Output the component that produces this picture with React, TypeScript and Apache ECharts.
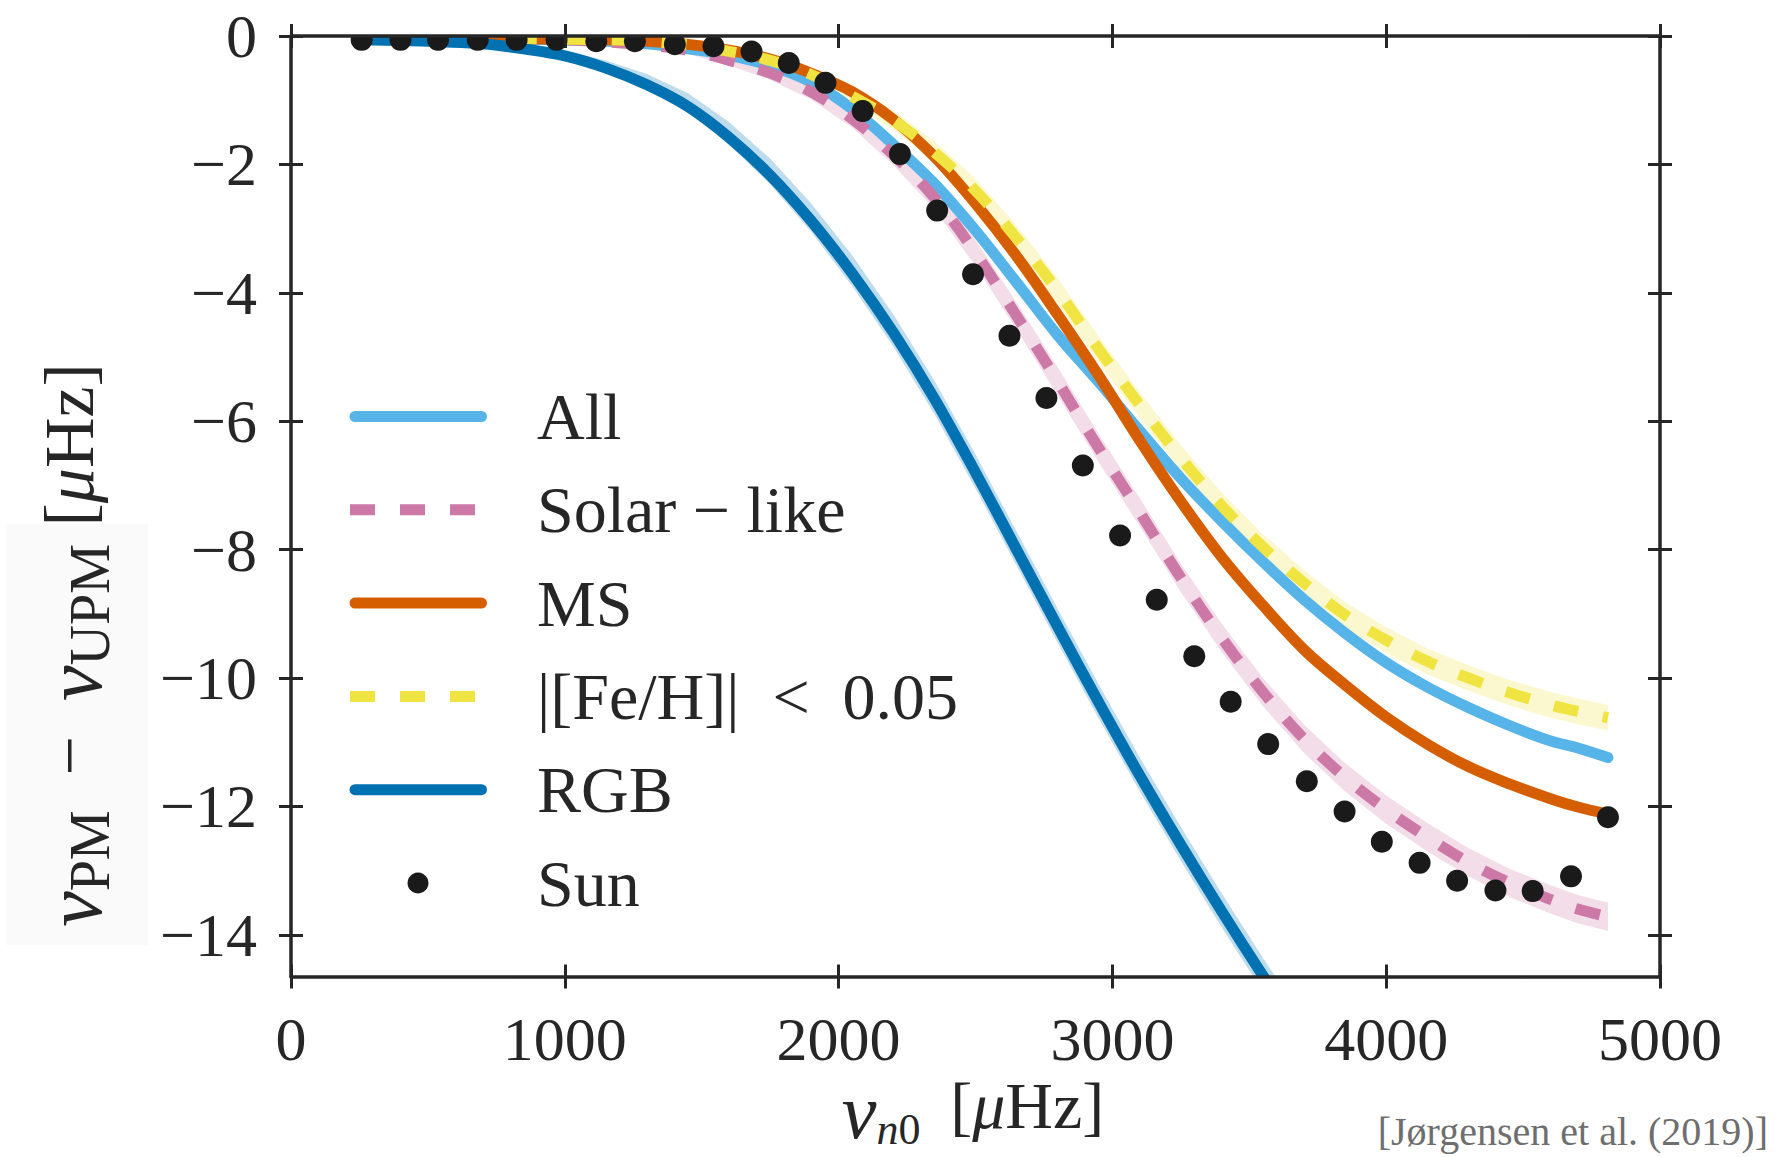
import React, { useEffect, useRef } from 'react';
import * as echarts from 'echarts';

// ---------------- data ----------------
const nuGrid = [258, 400, 550, 700, 850, 1000, 1150, 1300, 1450, 1600, 1750, 1900, 2050, 2200, 2350, 2500, 2650, 2800, 2950, 3100, 3250, 3400, 3550, 3700, 3850, 4000, 4150, 4300, 4450, 4600, 4700, 4810];

const allValues = [-0.03, -0.03, -0.03, -0.04, -0.05, -0.06, -0.08, -0.12, -0.2, -0.3, -0.46, -0.72, -1.14, -1.69, -2.3, -3.03, -3.84, -4.66, -5.39, -6.15, -6.89, -7.56, -8.19, -8.78, -9.3, -9.76, -10.14, -10.46, -10.74, -10.98, -11.09, -11.24];

const solarLikeValues = [-0.03, -0.03, -0.03, -0.04, -0.05, -0.06, -0.09, -0.14, -0.22, -0.38, -0.58, -0.87, -1.29, -1.85, -2.52, -3.38, -4.36, -5.38, -6.42, -7.42, -8.44, -9.38, -10.22, -10.95, -11.55, -12.05, -12.48, -12.87, -13.19, -13.45, -13.6, -13.72];

const msValues = [-0.03, -0.03, -0.03, -0.03, -0.04, -0.05, -0.06, -0.08, -0.13, -0.22, -0.36, -0.58, -0.87, -1.3, -1.88, -2.61, -3.43, -4.34, -5.29, -6.3, -7.25, -8.12, -8.87, -9.56, -10.11, -10.61, -11.03, -11.38, -11.65, -11.88, -12.01, -12.12];

const fehValues = [-0.03, -0.03, -0.03, -0.03, -0.04, -0.05, -0.06, -0.08, -0.14, -0.24, -0.38, -0.6, -0.94, -1.31, -1.81, -2.41, -3.15, -3.97, -4.88, -5.75, -6.57, -7.32, -7.96, -8.52, -9.02, -9.41, -9.74, -10.0, -10.23, -10.42, -10.52, -10.62];

const rgbValues = [-0.06, -0.07, -0.09, -0.12, -0.2, -0.31, -0.5, -0.76, -1.1, -1.58, -2.17, -2.88, -3.7, -4.62, -5.65, -6.8, -8.0, -9.2, -10.38, -11.52, -12.6, -13.64, -14.64, -15.6, null, null, null, null, null, null, null, null];

// uncertainty bands (half-widths)
const solarLikeSpread = [0.01, 0.01, 0.01, 0.02, 0.02, 0.03, 0.04, 0.05, 0.06, 0.08, 0.1, 0.12, 0.14, 0.16, 0.18, 0.2, 0.21, 0.22, 0.22, 0.22, 0.22, 0.22, 0.22, 0.22, 0.22, 0.22, 0.22, 0.22, 0.22, 0.22, 0.22, 0.22];
const fehSpread = [0.01, 0.01, 0.01, 0.01, 0.02, 0.02, 0.03, 0.04, 0.05, 0.07, 0.09, 0.11, 0.13, 0.15, 0.17, 0.19, 0.2, 0.2, 0.2, 0.2, 0.2, 0.2, 0.2, 0.2, 0.2, 0.2, 0.2, 0.2, 0.2, 0.2, 0.2, 0.2];
const rgbSpreadUp = [0.02, 0.02, 0.03, 0.04, 0.06, 0.08, 0.12, 0.17, 0.21, 0.24, 0.26, 0.27, 0.28, 0.28, 0.28, 0.28, 0.28, 0.28, 0.28, 0.28, 0.28, 0.28, 0.28, 0.28, null, null, null, null, null, null, null, null];
const rgbSpreadDown = [0.01, 0.01, 0.02, 0.02, 0.03, 0.04, 0.05, 0.07, 0.09, 0.11, 0.14, 0.17, 0.2, 0.22, 0.24, 0.25, 0.25, 0.25, 0.25, 0.25, 0.25, 0.25, 0.25, 0.25, null, null, null, null, null, null, null, null];

const sunNu = [258, 400, 537, 682, 824, 970, 1115, 1256, 1402, 1543, 1682, 1818, 1952, 2088, 2224, 2360, 2491, 2624, 2759, 2892, 3028, 3162, 3299, 3432, 3569, 3710, 3848, 3984, 4122, 4259, 4399, 4535, 4675, 4810];
const sunValues = [-0.06, -0.06, -0.06, -0.06, -0.06, -0.06, -0.08, -0.08, -0.13, -0.16, -0.24, -0.42, -0.73, -1.17, -1.84, -2.72, -3.71, -4.67, -5.64, -6.69, -7.78, -8.78, -9.66, -10.37, -11.03, -11.61, -12.08, -12.55, -12.88, -13.16, -13.31, -13.32, -13.09, -12.17];

const xTickValues = [0, 1000, 2000, 3000, 4000, 5000];
const yTickValues = [-14, -12, -10, -8, -6, -4, -2, 0];
const legendLabels = ['All', 'Solar \u2212 like', 'MS', '|[Fe/H]|\u2002<\u20020.05', 'RGB', 'Sun'];
const citationText = '[J\u00f8rgensen et al. (2019)]';

// ---------------- styling ----------------
const W = 1785;
const H = 1157;
const GRID = { left: 291, top: 36, right: 125, bottom: 180.5 };
const X_MIN = 0;
const X_MAX = 5000;
const Y_MIN = -14.65;
const Y_MAX = 0;
const FONT = "'Liberation Serif', 'DejaVu Serif', serif";
const AXIS_COLOR = '#262626';
const COLORS = {
  all: '#56B4E9',
  solar: '#CC79A7',
  ms: '#D55E00',
  feh: '#F0E442',
  rgb: '#0072B2',
  sun: '#1a1a1a',
};
const LINE_W = 11;

function seriesPoints(values: (number | null)[]) {
  const out: number[][] = [];
  nuGrid.forEach((x, i) => {
    const v = values[i];
    if (v != null) out.push([x, v]);
  });
  return out;
}

function bandRows(values: (number | null)[], up: (number | null)[], down: (number | null)[]) {
  const rows: number[][] = [];
  nuGrid.forEach((x, i) => {
    const v = values[i];
    const u = up[i];
    const d = down[i];
    if (v != null && u != null && d != null) rows.push([x, v - d, v + u]);
  });
  return rows;
}

function bandSeries(id: string, rows: number[][], fill: string) {
  return {
    type: 'custom',
    id,
    silent: true,
    clip: true,
    z: 1,
    data: rows,
    encode: { x: 0, y: [1, 2] },
    renderItem: (params: any, api: any) => {
      if (params.dataIndex !== 0) return null;
      const upper = rows.map((r) => api.coord([r[0], r[2]]));
      const lower = rows.map((r) => api.coord([r[0], r[1]])).reverse();
      return {
        type: 'polygon',
        shape: { points: upper.concat(lower) },
        style: { fill },
      };
    },
  };
}

function lineSeries(name: string, values: (number | null)[], color: string, dashed: boolean) {
  return {
    type: 'line',
    name,
    data: seriesPoints(values),
    symbol: 'none',
    showSymbol: false,
    smooth: 0.35,
    clip: true,
    silent: true,
    z: 2,
    lineStyle: {
      color,
      width: LINE_W,
      type: dashed ? [25, 25] : 'solid',
      cap: dashed ? 'butt' : 'round',
      join: 'round',
    },
    emphasis: { disabled: true },
  };
}

const tickLine = { color: AXIS_COLOR, width: 3 };

function xAxisDef(position: string, inside: boolean, showLine: boolean, showLabel: boolean) {
  return {
    type: 'value',
    position,
    min: X_MIN,
    max: X_MAX,
    interval: 1000,
    z: 10,
    axisLine: { show: showLine, onZero: false, lineStyle: { color: AXIS_COLOR, width: 3.5 } },
    axisTick: { show: true, inside, length: 12, lineStyle: tickLine, customValues: xTickValues },
    axisLabel: {
      show: showLabel,
      margin: 31,
      fontSize: 62,
      fontFamily: FONT,
      color: AXIS_COLOR,
      customValues: xTickValues,
      formatter: (v: number) => String(v),
    },
    splitLine: { show: false },
  };
}

function yAxisDef(position: string, inside: boolean, showLine: boolean, showLabel: boolean) {
  return {
    type: 'value',
    position,
    min: Y_MIN,
    max: Y_MAX,
    z: 10,
    axisLine: { show: showLine, onZero: false, lineStyle: { color: AXIS_COLOR, width: 3.5 } },
    axisTick: { show: true, inside, length: 12, lineStyle: tickLine, customValues: yTickValues },
    axisLabel: {
      show: showLabel,
      margin: 34,
      fontSize: 62,
      fontFamily: FONT,
      color: AXIS_COLOR,
      customValues: yTickValues,
      formatter: (v: number) => (v < 0 ? '\u2212' + Math.abs(v) : String(v)),
    },
    splitLine: { show: false },
  };
}

function mathRich(main: number, nu: number, sub: number) {
  const lh = Math.round(main * 1.2);
  return {
    n: { fontSize: nu, fontFamily: FONT, fontStyle: 'italic', fill: AXIS_COLOR, lineHeight: lh, verticalAlign: 'top' },
    i: { fontSize: main, fontFamily: FONT, fontStyle: 'italic', fill: AXIS_COLOR, lineHeight: lh, verticalAlign: 'top' },
    r: { fontSize: main, fontFamily: FONT, fill: AXIS_COLOR, lineHeight: lh, verticalAlign: 'top' },
    s: { fontSize: sub, fontFamily: FONT, fill: AXIS_COLOR, lineHeight: sub, verticalAlign: 'bottom' },
    si: { fontSize: sub, fontFamily: FONT, fontStyle: 'italic', fill: AXIS_COLOR, lineHeight: sub, verticalAlign: 'bottom' },
  };
}

function buildGraphic() {
  const els: any[] = [];
  // white covers so that marks are clipped at the frame like in the reference
  els.push({ type: 'rect', silent: true, z: 5, shape: { x: 0, y: 0, width: W, height: GRID.top }, style: { fill: '#ffffff' } });
  els.push({ type: 'rect', silent: true, z: 5, shape: { x: 0, y: H - GRID.bottom, width: W, height: GRID.bottom }, style: { fill: '#ffffff' } });
  // faint box behind the y label
  els.push({ type: 'rect', silent: true, z: 6, shape: { x: 6, y: 524, width: 142, height: 421 }, style: { fill: '#fafafa' } });

  // y axis label
  els.push({
    type: 'text',
    silent: true,
    z: 20,
    x: 76,
    y: 645,
    rotation: Math.PI / 2,
    style: {
      text: '{n|\u03bd}{s|PM}{r|\u2002\u2212\u2002}{n|\u03bd}{s|UPM}{r| [}{i|\u03bc}{r|Hz]}',
      rich: mathRich(70, 80, 56),
      fontSize: 70,
      fontFamily: FONT,
      fill: AXIS_COLOR,
      align: 'center',
      verticalAlign: 'middle',
      textAlign: 'center',
      textVerticalAlign: 'middle',
    },
  });
  // x axis label
  els.push({
    type: 'text',
    silent: true,
    z: 20,
    x: 973,
    y: 1112,
    style: {
      text: '{n|\u03bd}{si|n}{s|0}{r| \u2009[}{i|\u03bc}{r|Hz]}',
      rich: mathRich(66, 78, 44),
      fontSize: 66,
      fontFamily: FONT,
      fill: AXIS_COLOR,
      align: 'center',
      verticalAlign: 'middle',
      textAlign: 'center',
      textVerticalAlign: 'middle',
    },
  });
  // citation
  els.push({
    type: 'text',
    silent: true,
    z: 20,
    x: 1768,
    y: 1131,
    style: {
      text: citationText,
      fontSize: 40,
      fontFamily: FONT,
      fill: '#6e6e6e',
      align: 'right',
      verticalAlign: 'middle',
      textAlign: 'right',
      textVerticalAlign: 'middle',
    },
  });

  // legend
  const legendDefs = [
    { color: COLORS.all, dash: false, marker: false },
    { color: COLORS.solar, dash: true, marker: false },
    { color: COLORS.ms, dash: false, marker: false },
    { color: COLORS.feh, dash: true, marker: false },
    { color: COLORS.rgb, dash: false, marker: false },
    { color: COLORS.sun, dash: false, marker: true },
  ];
  legendDefs.forEach((d, i) => {
    const y = 416.5 + i * 93.3;
    if (d.marker) {
      els.push({ type: 'circle', silent: true, z: 20, shape: { cx: 418, cy: y, r: 10.5 }, style: { fill: d.color } });
    } else if (d.dash) {
      els.push({
        type: 'line', silent: true, z: 20,
        shape: { x1: 350, y1: y, x2: 475, y2: y },
        style: { stroke: d.color, lineWidth: LINE_W, lineCap: 'butt', lineDash: [25, 25] },
      });
    } else {
      els.push({
        type: 'line', silent: true, z: 20,
        shape: { x1: 355, y1: y, x2: 481.5, y2: y },
        style: { stroke: d.color, lineWidth: LINE_W, lineCap: 'round' },
      });
    }
    els.push({
      type: 'text', silent: true, z: 20, x: 537, y,
      style: {
        text: legendLabels[i],
        fontSize: 66,
        fontFamily: FONT,
        fill: AXIS_COLOR,
        align: 'left',
        verticalAlign: 'middle',
        textAlign: 'left',
        textVerticalAlign: 'middle',
      },
    });
  });
  return els;
}

function buildOption() {
  return {
    animation: false,
    backgroundColor: '#ffffff',
    grid: { left: GRID.left, top: GRID.top, right: GRID.right, bottom: GRID.bottom, containLabel: false },
    xAxis: [
      xAxisDef('bottom', false, true, true),
      xAxisDef('top', false, true, false),
      xAxisDef('bottom', true, false, false),
      xAxisDef('top', true, false, false),
    ],
    yAxis: [
      yAxisDef('left', false, true, true),
      yAxisDef('right', false, true, false),
      yAxisDef('left', true, false, false),
      yAxisDef('right', true, false, false),
    ],
    series: [
      bandSeries('rgbBand', bandRows(rgbValues, rgbSpreadUp, rgbSpreadDown), 'rgba(0,114,178,0.25)'),
      bandSeries('solarBand', bandRows(solarLikeValues, solarLikeSpread, solarLikeSpread), 'rgba(204,121,167,0.25)'),
      bandSeries('fehBand', bandRows(fehValues, fehSpread, fehSpread), 'rgba(240,228,66,0.25)'),
      lineSeries('All', allValues, COLORS.all, false),
      lineSeries('Solar-like', solarLikeValues, COLORS.solar, true),
      lineSeries('MS', msValues, COLORS.ms, false),
      lineSeries('FeH', fehValues, COLORS.feh, true),
      lineSeries('RGB', rgbValues, COLORS.rgb, false),
      {
        type: 'scatter',
        name: 'Sun',
        data: sunNu.map((x, i) => [x, sunValues[i]]),
        symbol: 'circle',
        symbolSize: 22,
        itemStyle: { color: COLORS.sun, opacity: 1 },
        z: 3,
        silent: true,
      },
    ],
    graphic: buildGraphic(),
  };
}

export default function App() {
  const ref = useRef<HTMLDivElement>(null);
  useEffect(() => {
    if (!ref.current) return;
    const chart = echarts.init(ref.current, undefined, { renderer: 'svg' });
    chart.setOption(buildOption() as any);
    return () => {
      chart.dispose();
    };
  }, []);
  return (
    <div
      ref={ref}
      style={{ position: 'fixed', left: 0, top: 0, width: W, height: H, background: '#ffffff' }}
    />
  );
}
